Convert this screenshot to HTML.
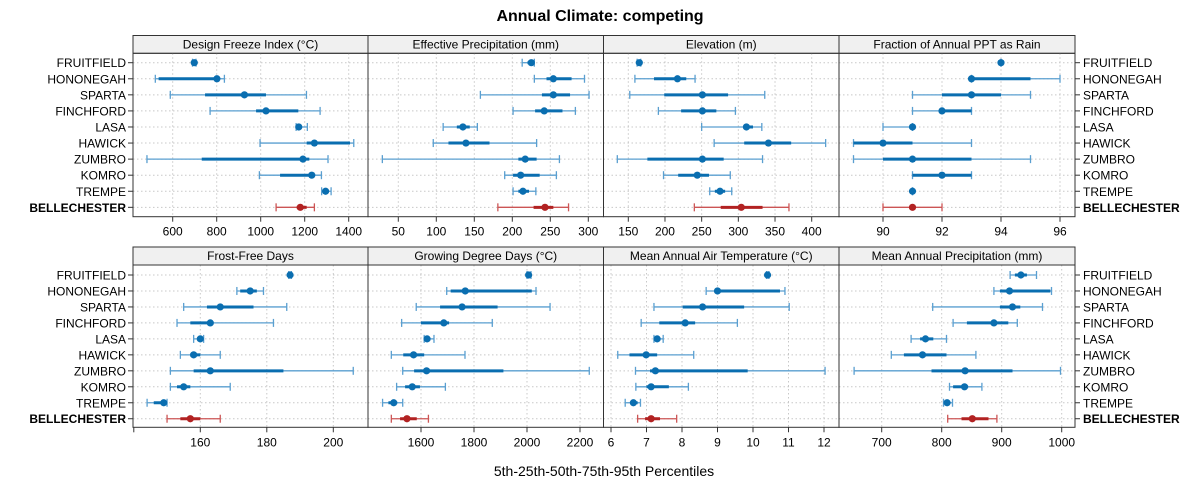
<!DOCTYPE html>
<html><head><meta charset="utf-8"><style>
body{margin:0;background:#fff;}
svg{display:block;font-family:"Liberation Sans",sans-serif;}
</style></head><body>
<svg id="chart" width="1200" height="500" viewBox="0 0 1200 500"></svg>
<script>
const categories=["FRUITFIELD","HONONEGAH","SPARTA","FINCHFORD","LASA","HAWICK","ZUMBRO","KOMRO","TREMPE","BELLECHESTER"];
const panelTitles=["Design Freeze Index (°C)","Effective Precipitation (mm)","Elevation (m)","Fraction of Annual PPT as Rain","Frost-Free Days","Growing Degree Days (°C)","Mean Annual Air Temperature (°C)","Mean Annual Precipitation (mm)"];
const tickLabels=[[600,800,1000,1200,1400],[50,100,150,200,250,300],[150,200,250,300,350,400],[90,92,94,96],[140,160,180,200],[1600,1800,2000,2200],[6,7,8,9,10,11,12],[700,800,900,1000]];
// axis calibration: [value1, pixel1, value2, pixel2]
const axisCal=[[600,172.7,1400,348.7],[50,398.3,300,588.3],[150,628.3,400,811.7],[90,883,96,1060],[160,200.3,200,333.3],[1600,421,2200,580],[6,611,12,824],[700,881.7,1000,1061.7]];
// each row: [p5,p25,p50,p75,p95]
const dfi=[[690,693,698,703,706],[521,536,801,815,835],[589,747,926,1024,1208],[770,979,1024,1171,1270],[1161,1163,1173,1186,1212],[997,1209,1244,1406,1423],[483,732,1192,1221,1306],[994,1088,1232,1247,1276],[1277,1282,1295,1310,1320],[1070,1164,1180,1209,1244]];
const effp=[[213,220,225,228,229],[229,245,254,278,295],[158,239,254,276,301],[201,230,242,266,283],[109,127,135,144,154],[96,116,139,170,232],[29,208,217,232,262],[190,201,211,236,258],[201,208,214,222,231],[181,228,243,254,274]];
const elev=[[162,163,165,166,167],[159,185,217,229,241],[152,199,251,286,336],[191,222,251,270,296],[250,307,311,320,332],[267,308,341,372,419],[135,176,251,280,333],[198,218,244,260,289],[261,268,275,282,291],[240,276,304,333,369]];
const frac=[[94,94,94,94,94],[93,93,93,95,96],[91,92,93,94,95],[91,92,92,93,93],[90,91,91,91,91],[89,89,90,91,93],[89,90,91,93,95],[91,91,92,93,93],[91,91,91,91,91],[90,91,91,91,92]];
const ffd=[[186.6,186.8,187,187.2,187.4],[171,172,175,177,179],[155,162,166,176,186],[153,157,163,164,182],[158,159,160,160.5,161],[154,157,158,160,166],[151,158,163,185,206],[151,153,155,157,169],[144,146,149,150,150],[150,154,157,160,166]];
const gdd=[[2000,2002,2006,2010,2015],[1697,1712,1767,2018,2034],[1582,1672,1755,1889,2087],[1527,1600,1686,1706,1869],[1612,1615,1623,1635,1649],[1488,1533,1572,1612,1766],[1531,1574,1621,1911,2235],[1508,1540,1567,1596,1692],[1455,1477,1497,1510,1531],[1488,1521,1547,1584,1628]];
const maat=[[10.38,10.39,10.41,10.43,10.45],[8.68,8.93,9.0,10.76,10.9],[7.21,8.02,8.58,9.75,11.02],[6.85,7.36,8.09,8.37,9.56],[7.21,7.25,7.3,7.35,7.47],[6.19,6.52,6.99,7.3,8.33],[6.69,7.1,7.25,9.85,12.03],[6.7,7.0,7.13,7.63,8.18],[6.4,6.55,6.63,6.75,6.83],[6.75,6.96,7.13,7.38,7.85]];
const map=[[914,922,932,942,958],[887,897,913,981,983],[785,897,918,931,968],[819,842,887,911,926],[749,764,773,786,808],[716,737,768,808,857],[654,783,839,918,998],[813,819,838,844,867],[803,806,809,812,818],[810,833,851,878,892]];
const seriesValues=[dfi,effp,elev,frac,ffd,gdd,maat,map];

const NS="http://www.w3.org/2000/svg";
const svg=document.getElementById('chart');
function mk(tag,attrs,parent){const e=document.createElementNS(NS,tag);for(const k in attrs)e.setAttribute(k,attrs[k]);(parent||svg).appendChild(e);return e;}
const colX=[133,368,603.5,839,1075];
const rowsGeo=[{stripTop:35.5,top:53.3,bottom:216.7,y0:62.7,dy:16.07},{stripTop:247,top:265,bottom:427.3,y0:275,dy:15.97}];
const BLUE="#0a6eb0",LBLUE="#5a9fd0",RED="#b22222",LRED="#cc5555";

let t=mk('text',{x:600,y:21,'text-anchor':'middle','font-size':16,'font-weight':'bold',fill:'#000'});
t.textContent="Annual Climate: competing";


for(let p=0;p<8;p++){
  const r=Math.floor(p/4),c=p%4,G=rowsGeo[r];
  const x0=colX[c],x1=colX[c+1];
  const cal=axisCal[p];
  const xs=v=>cal[1]+(v-cal[0])*(cal[3]-cal[1])/(cal[2]-cal[0]);
  const ys=i=>G.y0+i*G.dy;
  const g=mk('g',{});
  
  const s=mk('rect',{x:x0,y:G.stripTop,width:x1-x0,height:G.top-G.stripTop,fill:'#f0f0f0',stroke:'#333','stroke-width':1},g);
  
  const st=mk('text',{x:(x0+x1)/2,y:G.top-5,'text-anchor':'middle','font-size':12,fill:'#000'},g);
  st.textContent=panelTitles[p];
  
  tickLabels[p].forEach(v=>{const X=xs(v);if(X>x0+1&&X<x1-1)mk('line',{x1:X,x2:X,y1:G.top,y2:G.bottom,stroke:'#c8c8c8','stroke-dasharray':'1.5,2.5'},g);});
  categories.forEach((cat,i)=>mk('line',{x1:x0,x2:x1,y1:ys(i),y2:ys(i),stroke:'#c8c8c8','stroke-dasharray':'1.5,2.5'},g));
  seriesValues[p].forEach((q,i)=>{
    const y=ys(i),isRef=i===categories.length-1;
    const dc=isRef?RED:BLUE,lc=isRef?LRED:LBLUE;
    const m=mk('g',{},g);
    
    mk('line',{x1:xs(q[0]),x2:xs(q[4]),y1:y,y2:y,stroke:lc,'stroke-width':1.3},m);
    mk('line',{x1:xs(q[0]),x2:xs(q[0]),y1:y-4,y2:y+4,stroke:lc,'stroke-width':1.3},m);
    mk('line',{x1:xs(q[4]),x2:xs(q[4]),y1:y-4,y2:y+4,stroke:lc,'stroke-width':1.3},m);
    mk('line',{x1:xs(q[1]),x2:xs(q[3]),y1:y,y2:y,stroke:dc,'stroke-width':3},m);
    mk('circle',{cx:xs(q[2]),cy:y,r:3.6,fill:dc},m);
  });
  mk('rect',{x:x0,y:G.top,width:x1-x0,height:G.bottom-G.top,fill:'none',stroke:'#333','stroke-width':1},g);
  tickLabels[p].forEach(v=>{
    const X=xs(v);if(X<x0-0.5||X>x1+0.5)return;
    mk('line',{x1:X,x2:X,y1:G.bottom,y2:G.bottom+5,stroke:'#333'},g);
    if(X<x0+5)return;
    const tl=mk('text',{x:X,y:G.bottom+19,'text-anchor':'middle','font-size':12,fill:'#000'},g);
    tl.textContent=v;
    
  });
}
rowsGeo.forEach(G=>{
  categories.forEach((cat,i)=>{
    const y=G.y0+i*G.dy+4.5,b=i===categories.length-1?'bold':'normal';
    mk('line',{x1:128,x2:133,y1:y-4.5,y2:y-4.5,stroke:'#333'});
    mk('line',{x1:1075,x2:1080,y1:y-4.5,y2:y-4.5,stroke:'#333'});
    const a=mk('text',{x:126,y:y,'text-anchor':'end','font-size':12,'font-weight':b,fill:'#000'});
    a.textContent=cat;
    
    const c=mk('text',{x:1083,y:y,'text-anchor':'start','font-size':12,'font-weight':b,fill:'#000'});
    c.textContent=cat;
    
  });
});
const xt=mk('text',{x:604,y:476,'text-anchor':'middle','font-size':14,fill:'#000'});
xt.textContent="5th-25th-50th-75th-95th Percentiles";

</script>
</body></html>
